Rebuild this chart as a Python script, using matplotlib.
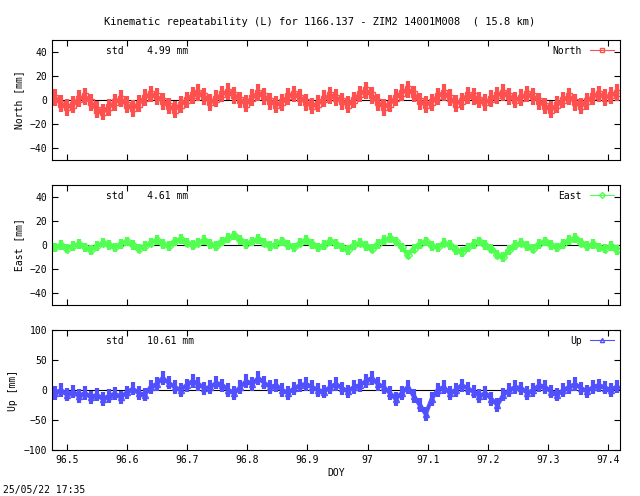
import matplotlib
matplotlib.use("Agg")
import matplotlib.pyplot as plt
from matplotlib.lines import Line2D
import numpy as np

title = "Kinematic repeatability (L) for 1166.137 - ZIM2 14001M008  ( 15.8 km)"
t_start, t_end = 96.48, 97.415
north = [2,-3,-6,-4,1,3,-2,-8,-10,-6,-2,1,-4,-7,-3,2,5,3,-1,-5,-8,-4,0,4,6,3,-2,1,5,7,4,0,-3,2,6,3,-1,-4,-2,3,5,2,-2,-5,-3,1,4,2,-1,-4,0,5,8,4,-2,-6,-3,2,6,9,5,-1,-4,-2,3,6,2,-3,-1,4,3,0,-2,1,4,6,3,0,2,5,3,-1,-5,-8,-4,0,3,-2,-5,-1,3,5,2,4,6]
east = [-2,0,-3,-1,1,-2,-4,-1,2,0,-2,1,3,0,-3,-1,2,4,1,-1,3,5,2,0,2,4,1,-1,3,6,8,4,1,3,5,2,-1,1,3,0,-2,2,4,1,-2,0,3,1,-2,-4,0,2,-1,-3,1,4,6,3,-2,-8,-3,1,3,-1,-2,2,0,-4,-6,-2,1,3,0,-3,-8,-10,-4,0,2,-1,-3,1,3,0,-2,1,4,6,2,-1,1,-2,-3,-1,-4]
up = [-5,0,-8,-3,-10,-5,-12,-8,-15,-10,-6,-12,-4,2,-5,-8,5,10,20,12,5,0,8,15,10,3,5,12,8,0,-5,5,15,10,20,12,5,8,0,-5,3,8,10,5,0,-3,5,10,3,-2,5,8,15,20,10,5,-5,-15,-5,5,-10,-25,-40,-15,0,5,-5,0,8,3,-3,-10,-5,-15,-25,-8,0,5,3,-5,0,8,5,-3,-8,0,5,10,3,-2,5,8,4,0,6]
series = [("North", north, 7, "#ff5050", "s", (-50, 50), [-40,-20,0,20,40], "4.99"),
          ("East", east, 4, "#50ff50", "D", (-50, 50), [-40,-20,0,20,40], "4.61"),
          ("Up", up, 11, "#5050ff", "^", (-100, 100), [-100,-50,0,50,100], "10.61")]
xticks = [96.5,96.6,96.7,96.8,96.9,97.0,97.1,97.2,97.3,97.4]
xlabels = ["96.5","96.6","96.7","96.8","96.9","97","97.1","97.2","97.3","97.4"]

plt.rcParams["font.family"] = "DejaVu Sans Mono"
plt.rcParams["font.size"] = 7
fig = plt.figure(figsize=(6.4, 4.96), dpi=100)
fig.text(0.5, 1-22/496, title, ha="center", va="center", fontsize=7.5)
tops = [40, 185, 330]
for (name, vals, err, col, mk, yl, yt, std), top in zip(series, tops):
    ax = fig.add_axes([52/640, 1-(top+120)/496, 568/640, 120/496])
    t = np.linspace(t_start, t_end, len(vals))
    ax.axhline(0, color="black", lw=0.8, zorder=0)
    ax.errorbar(t, vals, yerr=err, color=col, marker=mk, ms=4, mfc="none",
                lw=3, elinewidth=3, capsize=0)
    ax.set_xlim(96.475, 97.42)
    ax.set_ylim(*yl)
    ax.set_yticks(yt)
    ax.set_xticks(xticks)
    ax.set_xticklabels(xlabels if name == "Up" else [])
    ax.tick_params(direction="in", top=True, right=True, length=4)
    ax.set_ylabel(f"{name} [mm]")
    ax.text(0.095, 0.91, f"std    {std} mm", transform=ax.transAxes, va="center")
    handle = Line2D([], [], color=col, lw=0.8, marker=mk, ms=3, mfc="none")
    ax.legend([handle], [name], loc="upper right", frameon=False, markerfirst=False,
              handlelength=2.5, borderaxespad=0.2)
    if name == "Up":
        ax.set_xlabel("DOY", labelpad=2)
fig.text(3/640, 1-490/496, "25/05/22 17:35", va="center")
fig.savefig("out.png", dpi=100)
